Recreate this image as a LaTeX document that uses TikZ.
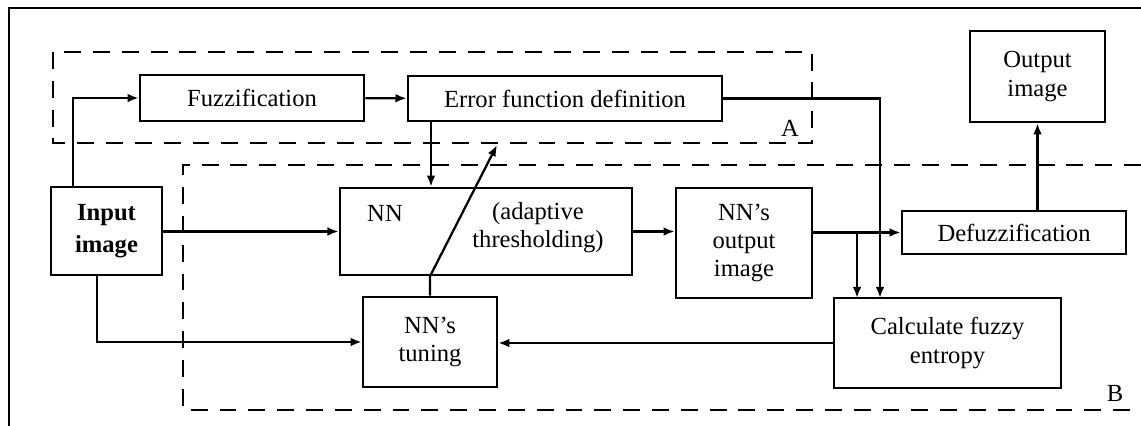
\documentclass[tikz,border=0pt]{standalone}
\usepackage{fontspec}
\setmainfont{Liberation Serif}
\usetikzlibrary{arrows.meta,positioning}

\begin{document}
\begin{tikzpicture}[x=0.025cm,y=-0.025cm,
    >={Latex[length=2.8mm,width=2.2mm]},
    blk/.style={draw,line width=1.8pt,inner sep=0pt,align=center,
      font=\fontsize{17.5}{20}\selectfont},
    txt/.style={inner sep=0pt,align=center,font=\fontsize{17.5}{20}\selectfont},
    zone/.style={line width=1.8pt,dash pattern=on 12pt off 8.5pt},
    link/.style={->,line width=1.6pt}]
        \useasboundingbox (0,0) rectangle (1141,426);
        % frame
        \draw[line width=0.9pt] (9,426) -- (9,8) -- (1141,8);

        \path
        % top row
        (252,98) node[blk,minimum width=5.6cm,minimum height=1.15cm](fuzz) {Fuzzification}
        (565,98.5) node[blk,minimum width=7.85cm,minimum height=1.125cm](errdef) {Error function definition}
        (1037.5,76.5) node[blk,minimum width=3.375cm,minimum height=2.275cm](outimg) {Output\\image}

        % middle row
        (106.5,231) node[blk,minimum width=2.775cm,minimum height=2.2cm,font=\fontsize{17.5}{22.5}\selectfont\bfseries](input) {Input\\image}
        (486,231.5) node[blk,minimum width=7.3cm,minimum height=2.175cm](nn) {}
        (385,213) node[txt](nnname) {NN}
        (538,228) node[txt](nnnote) {(adaptive\\thresholding)}
        (744,243) node[blk,minimum width=3.4cm,minimum height=2.75cm](nnout) {NN's\\output\\image}
        (1014,232.5) node[blk,minimum width=5.6cm,minimum height=1.075cm](defuzz) {Defuzzification}

        % bottom row
        (430,342) node[blk,minimum width=3.35cm,minimum height=2.25cm](tuning) {NN's\\tuning}
        (947.5,343) node[blk,minimum width=5.675cm,minimum height=2.25cm](entropy) {Calculate fuzzy\\entropy}

        % zone labels
        (790,128) node[txt](lblA) {A}
        (1115,393) node[txt](lblB) {B}
        ;

        % zones
        \draw[zone] (53,52) rectangle (812,143);
        \draw[zone] (1141,165) -- (183,165) -- (183,410) -- (1141,410);

        \coordinate (inUp) at (73,187);
        \coordinate (inDown) at (97,275);
        \coordinate (errDown) at (431,121);
        \coordinate (dropE) at (880,298);
        \coordinate (dropO) at (857,298);
        \coordinate (tipA) at (497,145);

        \draw[link] (inUp) |- (fuzz.west);
        \draw[link] (fuzz) -- (errdef);
        \draw[link] (errDown) -- (errDown |- nn.north);
        \draw[link] (errdef.east) -| (dropE);
        \draw[link] (input.east |- nn.west) -- (nn.west);
        \draw[link] (inDown) |- (tuning.west);
        \draw[link] (nn.east) -- (nnout.west |- nn.east);
        \draw[link] (nnout.east |- defuzz.west) -- (defuzz.west);
        \draw[link] (dropO |- defuzz.west) -- (dropO);
        \draw[link] (defuzz.north -| outimg.south) -- (outimg.south);
        \draw[link] (entropy.west) -- (tuning.east |- entropy.west);
        \draw[link] (tuning.north) -- (tuning.north |- nn.south) -- (tipA);
\end{tikzpicture}
\end{document}
